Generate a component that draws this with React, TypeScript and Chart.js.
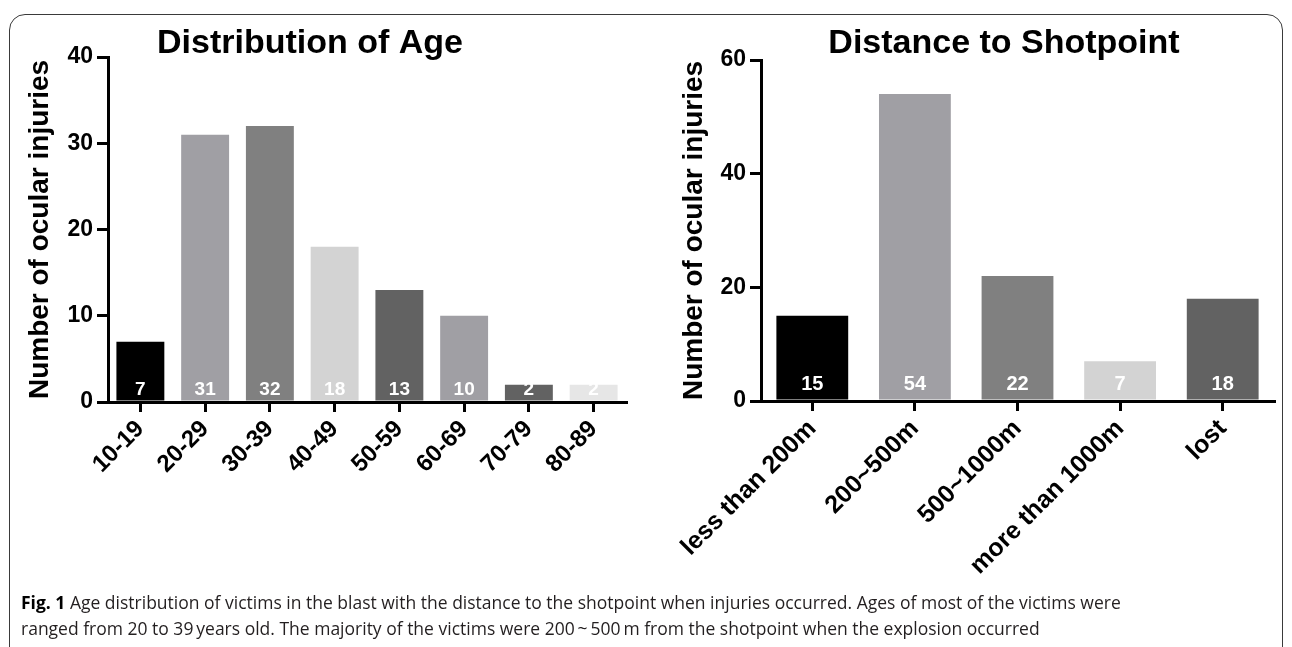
import React, { useEffect, useRef } from 'react';
import { Chart, registerables } from 'chart.js';

Chart.register(...registerables);

const FONT = "'Liberation Sans', Arial, Helvetica, sans-serif";

// ---- Data: Distribution of Age ----
const ageTitle = 'Distribution of Age';
const ageCategories = ['10-19', '20-29', '30-39', '40-49', '50-59', '60-69', '70-79', '80-89'];
const ageCounts = [7, 31, 32, 18, 13, 10, 2, 2];
const ageColors = ['#000000', '#a09fa4', '#808080', '#d3d3d3', '#626262', '#a09fa4', '#626262', '#e6e6e6'];
const ageTicks = [0, 10, 20, 30, 40];

// ---- Data: Distance to Shotpoint ----
const distTitle = 'Distance to Shotpoint';
const distCategories = ['less than 200m', '200~500m', '500~1000m', 'more than 1000m', 'lost'];
const distCounts = [15, 54, 22, 7, 18];
const distColors = ['#000000', '#a09fa4', '#808080', '#d3d3d3', '#626262'];
const distTicks = [0, 20, 40, 60];

const yAxisTitle = 'Number of ocular injuries';

const annotatePlugin = {
  id: 'annotate',
  afterDatasetsDraw(chart: any, _args: any, opts: any) {
    const ctx = chart.ctx;
    const meta = chart.getDatasetMeta(0);
    const y0 = chart.scales.y.getPixelForValue(0);
    const values = chart.data.datasets[0].data;
    ctx.save();
    ctx.font = `bold ${opts.valueSize}px ${FONT}`;
    ctx.fillStyle = '#ffffff';
    ctx.textAlign = 'center';
    ctx.textBaseline = 'middle';
    meta.data.forEach((el: any, i: number) => {
      ctx.fillText(String(values[i]), el.x, y0 - opts.valueOffset);
    });
    ctx.font = `bold ${opts.titleSize}px ${FONT}`;
    ctx.fillStyle = '#000000';
    ctx.textBaseline = 'alphabetic';
    ctx.fillText(opts.title, opts.titleX, opts.titleY);
    ctx.restore();
  },
};

type Cfg = {
  labels: string[];
  values: number[];
  colors: string[];
  ticks: number[];
  title: string;
  titleX: number;
  padLeft: number;
  padRight: number;
  padTop: number;
  yWidth: number;
  xHeight: number;
  yTitlePad: number;
  barPct: number;
  xFont: number;
  valueSize: number;
  valueOffset: number;
};

function makeConfig(c: Cfg): any {
  const axisGrid = {
    display: true,
    drawOnChartArea: false,
    drawTicks: true,
    offset: false,
    color: '#000000',
    tickColor: '#000000',
    lineWidth: 3,
    tickWidth: 3,
  };
  return {
    type: 'bar',
    data: {
      labels: c.labels,
      datasets: [
        {
          data: c.values,
          backgroundColor: c.colors,
          borderWidth: 0,
          barPercentage: c.barPct,
          categoryPercentage: 1,
        },
      ],
    },
    options: {
      responsive: false,
      animation: false,
      devicePixelRatio: 1,
      layout: { padding: { left: c.padLeft, right: c.padRight, top: c.padTop, bottom: 0 } },
      plugins: {
        legend: { display: false },
        tooltip: { enabled: false },
        title: { display: false },
        annotate: {
          title: c.title,
          titleX: c.titleX,
          titleY: 53,
          titleSize: 34,
          valueSize: c.valueSize,
          valueOffset: c.valueOffset,
        },
      },
      scales: {
        x: {
          type: 'category',
          offset: true,
          grid: { ...axisGrid, tickLength: 10 },
          border: { display: true, color: '#000000', width: 3 },
          ticks: {
            autoSkip: false,
            minRotation: 45,
            maxRotation: 45,
            color: '#000000',
            padding: 3,
            font: { family: FONT, size: c.xFont, weight: 'bold' },
          },
          afterFit: (s: any) => {
            s.height = c.xHeight;
          },
        },
        y: {
          min: c.ticks[0],
          max: c.ticks[c.ticks.length - 1],
          afterBuildTicks: (s: any) => {
            s.ticks = c.ticks.map((v) => ({ value: v }));
          },
          grid: { ...axisGrid, tickLength: 11 },
          border: { display: true, color: '#000000', width: 3 },
          ticks: {
            color: '#000000',
            padding: 4,
            font: { family: FONT, size: 23, weight: 'bold' },
          },
          title: {
            display: true,
            text: yAxisTitle,
            color: '#000000',
            font: { family: FONT, size: 28, weight: 'bold', lineHeight: 1 },
            padding: { top: c.yTitlePad, bottom: 0 },
          },
          afterFit: (s: any) => {
            s.width = c.yWidth;
          },
        },
      },
    },
    plugins: [annotatePlugin],
  };
}

function BarPanel({ cfg, left, width, height }: { cfg: Cfg; left: number; width: number; height: number }) {
  const ref = useRef<HTMLCanvasElement | null>(null);
  useEffect(() => {
    if (!ref.current) return;
    const chart = new Chart(ref.current, makeConfig(cfg));
    return () => chart.destroy();
  }, []);
  return (
    <canvas
      ref={ref}
      width={width}
      height={height}
      style={{ position: 'absolute', left, top: 0, width, height }}
    />
  );
}

const leftCfg: Cfg = {
  labels: ageCategories,
  values: ageCounts,
  colors: ageColors,
  ticks: ageTicks,
  title: ageTitle,
  titleX: 310,
  padLeft: 20,
  padRight: 14,
  padTop: 57,
  yWidth: 88,
  xHeight: 198,
  yTitlePad: 6,
  barPct: 0.74,
  xFont: 24,
  valueSize: 19,
  valueOffset: 12,
};

const rightCfg: Cfg = {
  labels: distCategories,
  values: distCounts,
  colors: distColors,
  ticks: distTicks,
  title: distTitle,
  titleX: 364,
  padLeft: 20,
  padRight: 18,
  padTop: 60,
  yWidth: 101,
  xHeight: 199,
  yTitlePad: 20,
  barPct: 0.7,
  xFont: 25,
  valueSize: 20,
  valueOffset: 17,
};

const captionLine1 =
  ' Age distribution of victims in the blast with the distance to the shotpoint when injuries occurred. Ages of most of the victims were';
const captionLine2 =
  'ranged from 20 to 39\u2009years old. The majority of the victims were 200\u2009~\u2009500\u2009m from the shotpoint when the explosion occurred';

export default function App() {
  return (
    <div
      style={{
        position: 'fixed',
        left: 0,
        top: 0,
        width: 1292,
        height: 647,
        overflow: 'hidden',
        background: '#ffffff',
      }}
    >
      <div
        style={{
          position: 'absolute',
          left: 9,
          top: 14,
          width: 1274,
          height: 700,
          border: '1.5px solid #3a3a3a',
          borderRadius: 16,
          boxSizing: 'border-box',
        }}
      />
      <BarPanel cfg={leftCfg} left={0} width={640} height={600} />
      <BarPanel cfg={rightCfg} left={640} width={652} height={600} />
      <div
        style={{
          position: 'absolute',
          left: 21,
          top: 589,
          fontFamily: "'Open Sans', 'Noto Sans', sans-serif",
          fontSize: 17.5,
          lineHeight: '26px',
          color: '#231f20',
          whiteSpace: 'nowrap',
        }}
      >
        <div>
          <b style={{ color: '#000' }}>Fig. 1</b>
          {captionLine1}
        </div>
        <div>{captionLine2}</div>
      </div>
    </div>
  );
}
